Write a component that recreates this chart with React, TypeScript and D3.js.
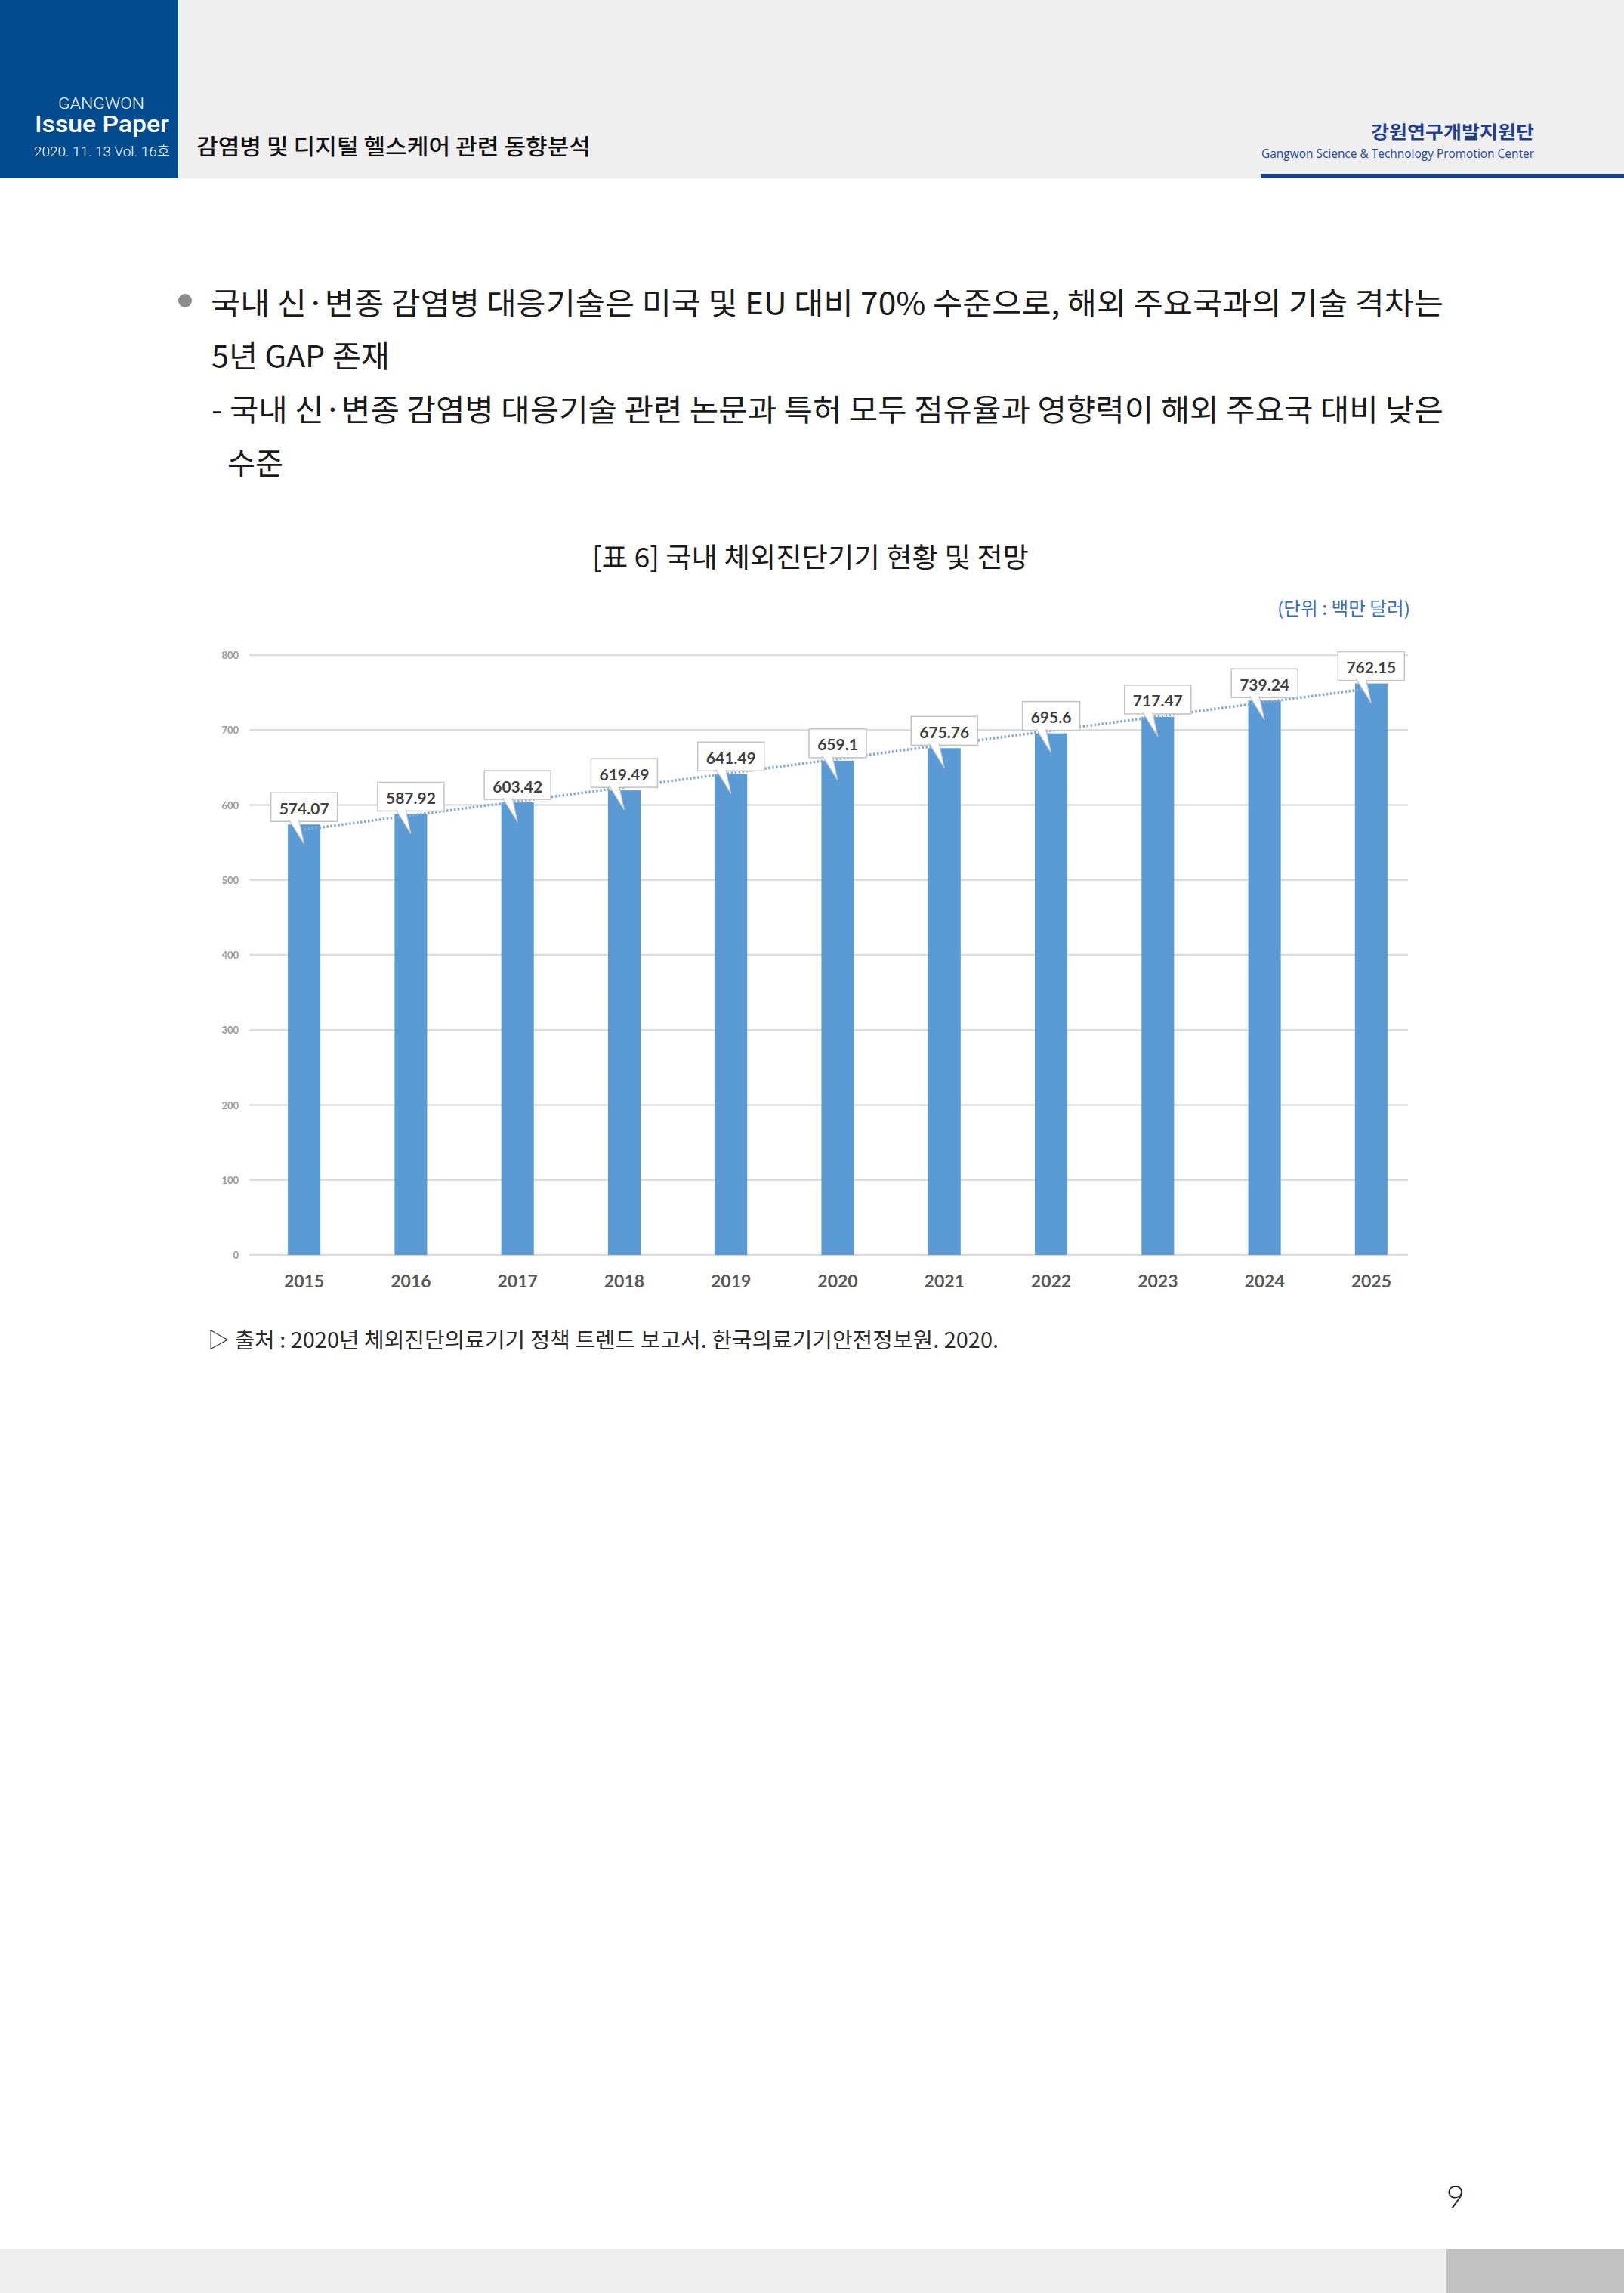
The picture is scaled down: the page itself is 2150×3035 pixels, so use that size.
import React from 'react';
import * as d3 from 'd3';

// chart data
const years = ['2015', '2016', '2017', '2018', '2019', '2020', '2021', '2022', '2023', '2024', '2025'];
const values = [574.07, 587.92, 603.42, 619.49, 641.49, 659.1, 675.76, 695.6, 717.47, 739.24, 762.15];
const yTicks = [0, 100, 200, 300, 400, 500, 600, 700, 800];

const bodyLines = [
  '국내 신·변종 감염병 대응기술은 미국 및 EU 대비 70% 수준으로, 해외 주요국과의 기술 격차는',
  '5년 GAP 존재',
  '- 국내 신·변종 감염병 대응기술 관련 논문과 특허 모두 점유율과 영향력이 해외 주요국 대비 낮은',
  '수준',
];

const KR = "'Noto Sans CJK KR', 'Noto Sans', sans-serif";
const NUM = "Lato, 'Open Sans', sans-serif";

export default function App() {
  const x = d3.scaleBand<string>()
    .domain(years)
    .range([332, 1886])
    .paddingInner(0.695)
    .paddingOuter(0.3475);
  const y = d3.scaleLinear().domain([0, 800]).range([1661, 867]);
  const bw = x.bandwidth();

  // linear trendline (least squares) like the Excel one
  const idx = values.map((_, i) => i);
  const mx = d3.mean(idx)!;
  const my = d3.mean(values)!;
  const slope = d3.sum(idx, i => (i - mx) * (values[i] - my)) / d3.sum(idx, i => (i - mx) ** 2);
  const icpt = my - slope * mx;
  const trend = d3.line<number>()
    .x(i => x(years[i])! + bw / 2)
    .y(i => y(icpt + slope * i))([0, years.length - 1]);

  return (
    <svg width={2150} height={3035} style={{ position: 'absolute', left: 0, top: 0, background: '#fff' }}>
      {/* header */}
      <rect x={0} y={0} width={2150} height={236} fill="#efefef" />
      <rect x={0} y={0} width={236} height={236} fill="#014b8e" />
      <text x={134} y={144} textAnchor="middle" fill="#fff" fontFamily="Roboto, sans-serif" fontWeight={300}
        fontSize={20} textLength={114} lengthAdjust="spacingAndGlyphs">GANGWON</text>
      <text x={135} y={175} textAnchor="middle" fill="#fff" fontFamily="Roboto, sans-serif" fontWeight={500}
        fontSize={31} textLength={178} lengthAdjust="spacingAndGlyphs">Issue Paper</text>
      <text x={135} y={207} textAnchor="middle" fill="#fff" fontFamily={`Roboto, ${KR}`} fontWeight={300}
        fontSize={19} textLength={180} lengthAdjust="spacingAndGlyphs">2020. 11. 13  Vol. 16호</text>
      <text x={260} y={192} dominantBaseline="central" fill="#111" fontFamily={KR} fontWeight={500}
        fontSize={29} textLength={522} lengthAdjust="spacingAndGlyphs">감염병 및 디지털 헬스케어 관련 동향분석</text>
      <text x={2031} y={173} textAnchor="end" dominantBaseline="central" fill="#1f3f92" fontFamily={KR} fontWeight={700}
        fontSize={23} textLength={216} lengthAdjust="spacingAndGlyphs">강원연구개발지원단</text>
      <text x={2031} y={209} textAnchor="end" fill="#1f4a9c" fontFamily="'Open Sans', sans-serif"
        fontSize={17} textLength={361} lengthAdjust="spacingAndGlyphs">Gangwon Science &amp; Technology Promotion Center</text>
      <rect x={1669} y={230} width={481} height={6} fill="#1b3f8f" />

      {/* body text */}
      <circle cx={245} cy={398} r={9} fill="#8c8c8c" />
      <text x={279} y={399} dominantBaseline="central" fill="#1a1a1a" fontFamily={KR} fontSize={40}
        textLength={1632} lengthAdjust="spacingAndGlyphs">{bodyLines[0]}</text>
      <text x={280} y={469} dominantBaseline="central" fill="#1a1a1a" fontFamily={KR} fontSize={40}
        textLength={236} lengthAdjust="spacingAndGlyphs">{bodyLines[1]}</text>
      <text x={280} y={540} dominantBaseline="central" fill="#1a1a1a" fontFamily={KR} fontSize={40}
        textLength={1631} lengthAdjust="spacingAndGlyphs">{bodyLines[2]}</text>
      <text x={301} y={611} dominantBaseline="central" fill="#1a1a1a" fontFamily={KR} fontSize={40}
        textLength={74} lengthAdjust="spacingAndGlyphs">{bodyLines[3]}</text>

      {/* table title + unit */}
      <text x={784} y={735} dominantBaseline="central" fill="#1a1a1a" fontFamily={KR} fontSize={36}
        textLength={578} lengthAdjust="spacingAndGlyphs">[표 6] 국내 체외진단기기 현황 및 전망</text>
      <text x={1867} y={803} textAnchor="end" dominantBaseline="central" fill="#3a70b8" fontFamily={KR} fontSize={24}
        textLength={176} lengthAdjust="spacingAndGlyphs">(단위 : 백만 달러)</text>

      {/* gridlines + y ticks */}
      {yTicks.map(t => (
        <g key={t}>
          <line x1={330} x2={1864} y1={y(t)} y2={y(t)} stroke="#dcdcdc" strokeWidth={2.5} />
          <text x={316} y={y(t)} textAnchor="end" dominantBaseline="central" fill="#9a9a9a"
            fontFamily={NUM} fontWeight={700} fontSize={13}>{t}</text>
        </g>
      ))}

      {/* bars */}
      {years.map((yr, i) => (
        <rect key={yr} x={x(yr)} y={y(values[i])} width={bw} height={y(0) - y(values[i])} fill="#5b9bd5" />
      ))}

      {/* x labels */}
      {years.map(yr => (
        <text key={yr} x={x(yr)! + bw / 2} y={1704} textAnchor="middle" fill="#595959"
          fontFamily={NUM} fontWeight={700} fontSize={23}>{yr}</text>
      ))}

      {/* trendline */}
      <path d={trend ?? ''} fill="none" stroke="#86a9d8" strokeWidth={3.5} strokeDasharray="2.5 2.5" />

      {/* data label callouts */}
      {years.map((yr, i) => {
        const label = String(values[i]);
        const cx = x(yr)! + bw / 2;
        const bottom = y(values[i]) - 4;
        const bh = 38;
        const bwid = label.length * 12 + 16;
        return (
          <g key={yr}>
            <rect x={cx - bwid / 2} y={bottom - bh} width={bwid} height={bh} fill="#fff" stroke="#c4c4c4" strokeWidth={1.5} />
            <path d={`M${cx - 20},${bottom - 2} L${cx},${bottom + 30} L${cx - 7},${bottom - 2}`}
              fill="#fff" stroke="#c4c4c4" strokeWidth={1.2} />
            <text x={cx} y={bottom - bh / 2 + 1} textAnchor="middle" dominantBaseline="central" fill="#404040"
              fontFamily={NUM} fontWeight={700} fontSize={21}>{label}</text>
          </g>
        );
      })}

      {/* source */}
      <text x={275} y={1772} dominantBaseline="central" fill="#2a2a2a" fontFamily={KR} fontSize={28}
        textLength={1047} lengthAdjust="spacingAndGlyphs">▷ 출처 : 2020년 체외진단의료기기 정책 트렌드 보고서. 한국의료기기안전정보원. 2020.</text>

      {/* page number + footer */}
      <text x={1927} y={2922} textAnchor="middle" fill="#222" fontFamily="Lato, sans-serif" fontWeight={300}
        fontSize={42}>9</text>
      <rect x={0} y={2977} width={1915} height={58} fill="#efefef" />
      <rect x={1915} y={2977} width={235} height={58} fill="#c0c1c0" />
    </svg>
  );
}
